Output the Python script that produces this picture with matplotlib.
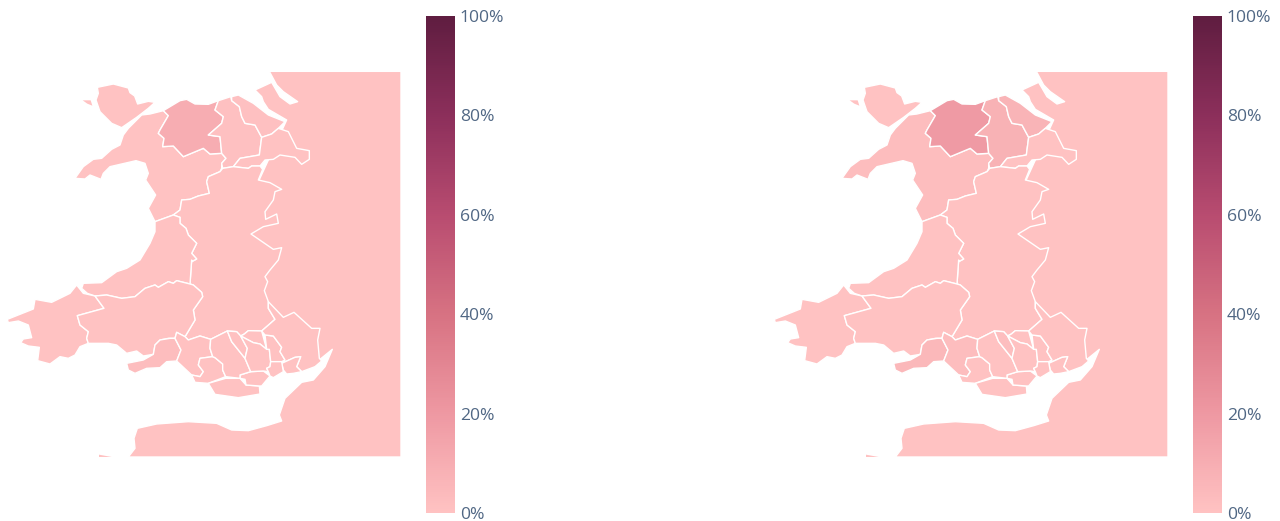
import matplotlib
matplotlib.use("Agg")
import matplotlib.pyplot as plt
from matplotlib.patches import Polygon
from matplotlib.cm import ScalarMappable
from matplotlib.colors import LinearSegmentedColormap, Normalize

W, H = 1280, 521
plt.rcParams['font.family'] = ['Open Sans', 'DejaVu Sans']

# Map outlines, in map units (north = small y), shared by the two panels
def z1(points):
    return [(x / 3, 60 + y / 3) for x, y in points]
def z2(points):
    return [(x / 3, 260 + y / 3) for x, y in points]

england = z1([(808,34),(1203,34)]) + z2([(1203,591),(385,591),(405,565),(402,535),(412,505),(470,492),(565,485),
    (650,490),(695,510),(745,512),(800,497),(845,483),(838,465),(855,415),(905,367),(940,360),(975,320),(997,268),
    (960,298),(750,120)]) + z1([(750,420),(860,180),(805,148),(790,125),(785,110),(765,90),(815,67),(840,110),(870,132),(893,125),(850,95),(830,75)])
anglesey = z1([(292,82),(340,72),(385,84),(390,98),(404,108),(413,132),(445,124),(465,127),(445,145),(410,172),(365,203),(335,190),(300,155),(288,120),(295,100)])
gwynedd = z1([(225,355),(250,320),(280,298),(305,295),(335,268),(360,255),(370,225),(385,205),(410,180),(425,165),(450,162),(490,152),(505,167),(480,210),(475,220),(492,235),(488,260),(520,258),(550,290),(610,265),(630,282),(665,280),(678,295),(665,310),(665,325),(660,335),(625,350),(620,365),(628,400),(595,408),(570,418),(545,420),(540,450),(520,465),(465,485),(445,445),(467,405),(437,360),(445,340),(435,310),(408,302),(330,320),(310,340),(303,358),(270,345),(255,357)])
conwy = z1([(490,152),(540,122),(560,118),(585,132),(625,133),(655,122),(645,150),(670,170),(665,190),(625,225),(660,230),(665,280),(630,282),(610,265),(550,290),(520,258),(488,260),(492,235),(475,220),(480,210),(505,167)])
denbighshire = z1([(655,122),(692,110),(695,122),(718,140),(725,170),(735,190),(765,195),(785,232),(778,285),(720,295),(700,320),(668,325),(665,310),(678,295),(665,280),(660,230),(625,225),(665,190),(670,170),(645,150)])
flintshire = z1([(695,110),(715,105),(760,130),(805,165),(855,185),(835,205),(815,222),(785,232),(765,195),(735,190),(725,170),(718,140),(695,122)])
wrexham = z1([(785,232),(815,222),(835,205),(865,215),(890,265),(928,272),(928,298),(905,313),(885,292),(840,285),(820,298),(795,300),(780,318),(755,318),(745,325),(700,320),(720,295),(778,285)])
powys = z1([(668,325),(700,320),(745,325),(755,318),(780,318),(788,328),(775,360),(810,368),(845,388),(825,395),(820,420),(795,455),(797,478),(830,462),(835,490),(790,500),(753,522),(820,568),(845,563),(835,600),(810,630)]) \
    + z2([(795,50),(803,65),(793,92),(805,125),(805,145),(825,178),(785,213),(745,212),(733,222),(722,228),(710,215),(682,213),(632,238),(600,228),(565,240),(555,230),(585,180),(580,150),(608,110),(605,97),(580,75),(570,72),(575,0)]) \
    + z1([(575,605),(590,597),(575,580),(590,550),(565,525),(558,505),(540,490),(540,472),(520,465),(540,450),(545,420),(570,418),(595,408),(628,400),(620,365),(625,350),(660,335)])
ceredigion = z1([(465,485),(520,465),(540,472),(540,490),(558,505),(565,525),(590,550),(575,580),(590,597),(575,605)]) \
    + z2([(575,0),(570,72),(530,62),(520,70),(505,65),(475,82),(465,75),(435,85),(405,110),(365,115),(320,105),(285,108),(262,100),(245,85),(250,70),(305,68),(350,35),(380,25),(420,0)]) \
    + z1([(450,550),(465,515)])
pembrokeshire = z2([(230,75),(250,100),(285,108),(312,145),(232,167),(240,195),(265,215),(260,235),(265,250),(240,260),(225,285),(205,295),(180,290),(150,312),(113,302),(118,262),(85,258),(62,248),(70,237),(95,233),(85,195),(55,183),(25,188),(22,178),(100,147),(105,118),(155,127),(210,100)])
carmarthenshire = z2([(285,108),(320,105),(365,115),(405,110),(435,85),(465,75),(475,82),(505,65),(520,70),(530,62),(570,72),(580,75),(605,97),(608,110),(580,150),(585,180),(555,230),(530,217),(525,235),(505,235),(480,240),(465,255),(460,283),(430,288),(410,273),(380,280),(350,255),(325,250),(265,250),(260,235),(265,215),(240,195),(232,167),(312,145)])
swansea = z2([(510,235),(525,235),(543,270),(530,303),(500,305),(480,323),(440,325),(405,340),(385,330),(380,310),(430,300),(460,283),(465,255),(480,240)])
neath_port_talbot = z2([(525,235),(530,217),(555,230),(565,240),(600,228),(632,238),(630,265),(638,290),(600,295),(595,315),(610,335),(600,350),(575,345),(530,303),(543,270)])
bridgend = z2([(600,295),(638,290),(645,293),(668,312),(668,330),(677,350),(625,370),(585,367),(575,345),(600,350),(610,335),(595,315)])
vale_west = z2([(625,370),(677,355),(720,355),(738,375),(778,378),(780,402),(715,413),(645,403)])
vale_east = z2([(720,345),(752,335),(790,333),(810,348),(785,378),(778,378),(738,375),(735,358),(720,355)])
rhondda = z2([(632,238),(682,213),(695,245),(735,295),(752,335),(720,345),(720,355),(677,350),(668,330),(668,312),(645,293),(638,290),(630,265)])
merthyr = z2([(682,213),(710,215),(722,228),(742,265),(735,295),(695,245)])
blaenau_gwent = z2([(733,222),(745,212),(785,213),(800,268),(780,252),(760,248),(722,228)])
caerphilly = z2([(722,228),(760,248),(780,252),(800,268),(808,268),(812,305),(810,320),(800,325),(805,335),(790,333),(752,335),(735,295),(742,265)])
torfaen = z2([(795,225),(820,228),(845,262),(840,275),(855,300),(845,305),(812,305),(808,268),(800,268)])
monmouthshire = z2([(785,213),(825,178),(805,145),(805,125),(850,172),(882,157),(935,205),(960,205),(953,240),(958,295),(965,303),(945,320),(905,335),(890,320),(902,290),(885,292),(845,310),(855,300),(840,275),(845,262),(820,228),(795,225)])
newport = z2([(845,310),(885,292),(902,290),(890,320),(905,335),(880,340),(860,342),(850,330)])
cardiff = z2([(812,305),(845,305),(850,335),(820,353),(810,348),(805,335),(800,325),(810,320)])

# Slivers too small to carry an outline
holy_island = z1([(248,121),(272,121),(277,137),(262,131)])
devon_tip = z2([(297,584),(335,591),(297,591)])
slivers = [holy_island, devon_tip]

regions = [england, anglesey, gwynedd, conwy, denbighshire, flintshire, wrexham, powys,
           ceredigion, pembrokeshire, carmarthenshire, swansea, neath_port_talbot, bridgend, vale_west, vale_east,
           rhondda, merthyr, blaenau_gwent, caerphilly, torfaen, monmouthshire, newport, cardiff]

# Percent values per region, same order as `regions`
values_left = [0, 0, 0, 10, 1, 1, 0, 0,
               0, 0, 0, 2.5, 0.5, 0, 0, 0,
               0, 0.5, 0, 0, 0, 0, 0, 0]
values_right = [0, 0, 2.5, 19, 8, 7, 0, 0,
                0, 0, 0, 5, 2.5, 0, 0, 0,
                0, 2, 0, 0, 0, 0, 0, 0]

# Colour scale, percent stops
scale_stops = [0, 20, 40, 60, 80, 100]
scale_colours = ['#FFC2C2', '#EE98A2', '#D77282', '#B84C70', '#8C2F5B', '#5F1D40']
tick_values = [0, 20, 40, 60, 80, 100]
tick_labels = ['0%', '20%', '40%', '60%', '80%', '100%']

cmap = LinearSegmentedColormap.from_list('rates', [(s / 100, c) for s, c in zip(scale_stops, scale_colours)], N=256)
norm = Normalize(0, 100)

fig = plt.figure(figsize=(W / 100, H / 100), dpi=100, facecolor='white')

def frac_axes(x0, y0, x1, y1):
    return fig.add_axes([x0 / W, 1 - y1 / H, (x1 - x0) / W, (y1 - y0) / H])

for offset, values in ((0, values_left), (767, values_right)):
    ax = frac_axes(offset, 60, offset + 420, 470)
    ax.set_xlim(0, 420)
    ax.set_ylim(470, 60)
    ax.axis('off')
    for shape, value in zip(regions, values):
        ax.add_patch(Polygon(shape, closed=True, facecolor=cmap(norm(value)), edgecolor='white', linewidth=1.0, joinstyle='round'))
    for shape in slivers:
        ax.add_patch(Polygon(shape, closed=True, facecolor=cmap(norm(0)), edgecolor='none'))

    cax = frac_axes(offset + 426, 16, offset + 455, 513)
    cb = fig.colorbar(ScalarMappable(norm=norm, cmap=cmap), cax=cax)
    cb.outline.set_visible(False)
    cb.set_ticks(tick_values, labels=tick_labels)
    cax.tick_params(length=0, pad=3.5, labelsize=12.6, labelcolor='#506784')

fig.savefig('out.png', dpi=100)
